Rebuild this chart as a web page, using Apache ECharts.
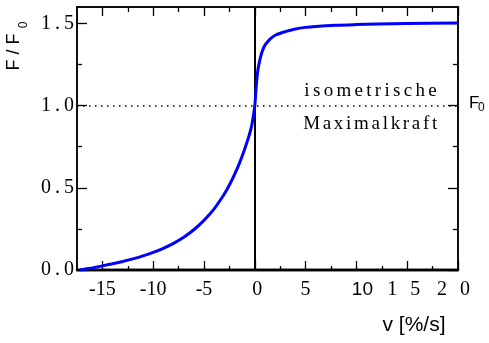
<!DOCTYPE html>
<html>
<head>
<meta charset="utf-8">
<script src="https://cdn.jsdelivr.net/npm/echarts@6/dist/echarts.min.js"></script>
<style>
  html, body { margin: 0; padding: 0; background: #fff; }
  #chart { width: 489px; height: 343px; }
</style>
</head>
<body>
<div id="chart"></div>
<script>
// Force–velocity relation (Hill curve), force relative to isometric maximum F0.
// Negative velocity: shortening (concentric), positive: lengthening (eccentric).
const velocity = [
  -17.2, -16, -15, -14, -13, -12, -11, -10, -9, -8, -7, -6, -5, -4, -3, -2.5,
  -2, -1.5, -1, -0.6, -0.3, 0, 0.1, 0.2, 0.3, 0.45, 0.7, 1, 1.5, 2, 3,
  4, 5, 6, 8, 10, 12, 15, 20
];
const force = [
  0, 0.013, 0.025, 0.038, 0.052, 0.068, 0.086, 0.107, 0.132, 0.162, 0.199, 0.245, 0.302, 0.372, 0.462, 0.517,
  0.58, 0.652, 0.735, 0.81, 0.88, 1.0, 1.085, 1.16, 1.215, 1.265, 1.325, 1.368, 1.405, 1.428, 1.45,
  1.466, 1.476, 1.482, 1.489, 1.493, 1.496, 1.499, 1.503
];

const isometricLevel = 1.0;

const xMajorTicks = [-15, -10, -5, 0, 5, 10, 15, 20];
const xMinorTicks = [-12.5, -7.5, -2.5, 2.5, 7.5, 12.5, 17.5];
const xTickLabels = ['-15', '-10', '-5', '{z|0}', '5', '{sans|10}', '{w|1}{r15|5}', '{w|2}{r20|0}'];

const yMajorTicks = [0, 0.5, 1.0, 1.5];
const yMinorTicks = [0.25, 0.75, 1.25];
const yTickLabels = ['0{p|.}0', '0{p|.}5', '1{p|.}0', '1{p|.}5'];

const X_MIN = -17.5, X_MAX = 20, Y_MIN = 0, Y_MAX = 1.6;

const SERIF = 'Liberation Serif';
const SANS = 'Liberation Sans';
const TICK_FONT = 20;

function labelFor(ticks, labels) {
  return function (value) {
    for (let i = 0; i < ticks.length; i++) {
      if (Math.abs(ticks[i] - value) < 1e-6) return labels[i];
    }
    return '';
  };
}

// letter-spaced text built from single-character rich tokens
function spaced(word) {
  return word.split('').map(ch => '{c|' + ch + '}').join('');
}

function serifStyle(padding) {
  return { fontFamily: SERIF, fontSize: TICK_FONT, color: '#000', padding: padding };
}

function xAxisDef(position, ticks, tickLen, lineWidth, withLabels) {
  return {
    type: 'value', gridIndex: 0, position: position,
    min: X_MIN, max: X_MAX,
    splitLine: { show: false },
    axisLine: { show: true, onZero: false, lineStyle: { color: '#000', width: lineWidth } },
    axisTick: { show: true, inside: true, length: tickLen, customValues: ticks,
                lineStyle: { color: '#000', width: 1.3 } },
    axisLabel: withLabels ? {
      show: true, customValues: ticks, margin: 10,
      fontFamily: SERIF, fontSize: TICK_FONT, color: '#000',
      formatter: labelFor(xMajorTicks, xTickLabels),
      rich: {
        z: serifStyle([0, 0, 0, 5]),
        sans: { fontFamily: SANS, fontSize: 19, color: '#000', padding: [0, 0, 0, 12] },
        w: serifStyle([0, 13, 0, 0]),
        r15: serifStyle([0, 7, 0, 0]),
        r20: serifStyle([0, 9, 0, 0])
      }
    } : { show: false }
  };
}

function yAxisDef(position, ticks, tickLen, lineWidth, withLabels) {
  return {
    type: 'value', gridIndex: 0, position: position,
    min: Y_MIN, max: Y_MAX,
    splitLine: { show: false },
    axisLine: { show: true, onZero: false, lineStyle: { color: '#000', width: lineWidth } },
    axisTick: { show: true, inside: true, length: tickLen, customValues: ticks,
                lineStyle: { color: '#000', width: 1.3 } },
    axisLabel: withLabels ? {
      show: true, customValues: ticks, margin: 3,
      fontFamily: SERIF, fontSize: TICK_FONT, color: '#000',
      formatter: labelFor(yMajorTicks, yTickLabels),
      rich: { p: serifStyle([0, 4, 0, 4]) }
    } : { show: false }
  };
}

const chart = echarts.init(document.getElementById('chart'), null, { renderer: 'canvas' });

chart.setOption({
  animation: false,
  backgroundColor: '#fff',
  grid: { left: 77, right: 31, top: 7, bottom: 73, containLabel: false },
  xAxis: [
    xAxisDef('bottom', xMajorTicks, 9, 2.4, true),
    xAxisDef('bottom', xMinorTicks, 4, 2.4, false),
    xAxisDef('top', xMajorTicks, 9, 1.5, false),
    xAxisDef('top', xMinorTicks, 5, 1.5, false)
  ],
  yAxis: [
    yAxisDef('left', yMajorTicks, 10, 1.5, true),
    yAxisDef('left', yMinorTicks, 5, 1.5, false),
    yAxisDef('right', yMajorTicks, 10, 1.5, false),
    yAxisDef('right', yMinorTicks, 5, 1.5, false)
  ],
  series: [{
    type: 'line',
    xAxisIndex: 0, yAxisIndex: 0,
    data: velocity.map((v, i) => [v, force[i]]),
    smooth: 0.3,
    showSymbol: false,
    symbol: 'none',
    lineStyle: { color: '#0000ff', width: 3 },
    z: 5,
    markLine: {
      silent: true,
      symbol: 'none',
      label: { show: false },
      data: [
        { xAxis: 0, lineStyle: { color: '#000', width: 2, type: 'solid' } },
        { yAxis: isometricLevel, lineStyle: { color: '#000', width: 1.5, type: [1.5, 4.5] } }
      ]
    }
  }],
  graphic: [
    // y-axis title: F / F0, rotated
    { type: 'text', x: 14, y: 52, rotation: Math.PI / 2,
      style: { text: 'F / F', fontFamily: SANS, fontSize: 18, fill: '#000',
               align: 'center', verticalAlign: 'middle' } },
    { type: 'text', x: 24, y: 25, rotation: Math.PI / 2,
      style: { text: '0', fontFamily: SANS, fontSize: 12, fill: '#000',
               align: 'center', verticalAlign: 'middle' } },
    // annotation of the isometric level
    { type: 'text', x: 440, y: 101,
      style: { text: spaced('isometrische'), fill: '#000',
               align: 'right', verticalAlign: 'bottom',
               rich: { c: { fontFamily: SERIF, fontSize: 19, fill: '#000', padding: [0, 3.3, 0, 0] } } } },
    { type: 'text', x: 440, y: 134,
      style: { text: spaced('Maximalkraft'), fill: '#000',
               align: 'right', verticalAlign: 'bottom',
               rich: { c: { fontFamily: SERIF, fontSize: 19, fill: '#000', padding: [0, 2.7, 0, 0] } } } },
    // F0 marker on the right
    { type: 'text', x: 469, y: 112,
      style: { text: 'F', fontFamily: SANS, fontSize: 17, fill: '#000',
               align: 'left', verticalAlign: 'bottom' } },
    { type: 'text', x: 478, y: 114,
      style: { text: '0', fontFamily: SANS, fontSize: 12, fill: '#000',
               align: 'left', verticalAlign: 'bottom' } },
    // x-axis title
    { type: 'text', x: 414, y: 325,
      style: { text: 'v [%/s]', fontFamily: SANS, fontSize: 21, fill: '#000',
               align: 'center', verticalAlign: 'middle' } }
  ]
});
</script>
</body>
</html>
